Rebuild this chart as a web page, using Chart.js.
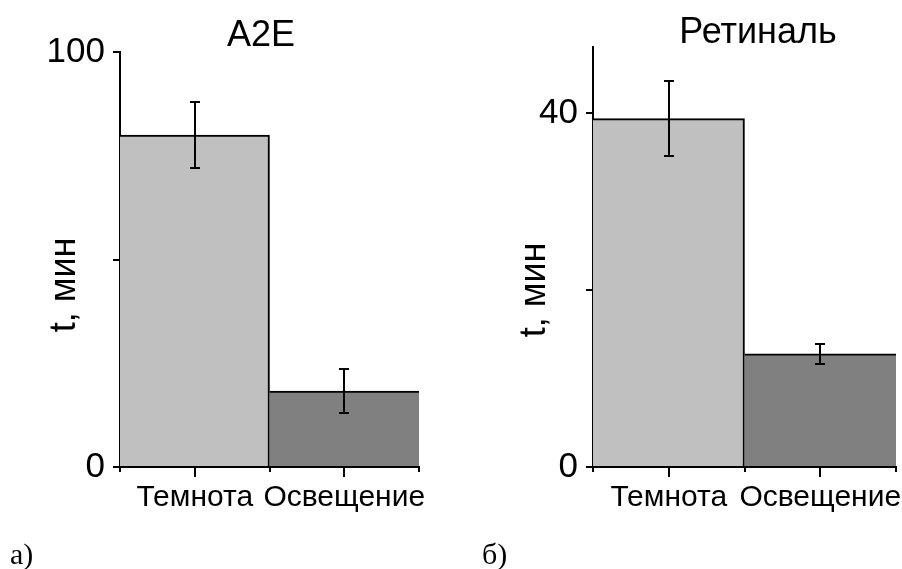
<!DOCTYPE html>
<html lang="ru">
<head>
<meta charset="utf-8">
<script src="https://cdn.jsdelivr.net/npm/chart.js@4.4.1/dist/chart.umd.min.js"></script>
<style>
  html, body { margin: 0; padding: 0; background: #fff; }
  #wrap { position: relative; width: 902px; height: 569px; overflow: hidden; background: #fff; }
  #wrap canvas { position: absolute; left: 0; top: 0; }
  .tag { position: absolute; font-family: "Liberation Serif", "Times New Roman", serif;
         font-size: 30px; line-height: 1; color: #000; white-space: nowrap; }
</style>
</head>
<body>
<div id="wrap">
  <canvas id="chartA" width="902" height="569"></canvas>
  <canvas id="chartB" width="902" height="569"></canvas>
  <div class="tag" style="left:10px; top:539px;">а)</div>
  <div class="tag" style="left:482px; top:539px;">б)</div>
</div>
<script>
// Categories and measured times (minutes) with their errors
const categories = ['Темнота', 'Освещение'];

const a2eTimes = [80, 18.3];
const a2eErrors = [8, 5.3];
const a2eMax = 100;
const a2eTicks = [0, 50, 100];
const a2eTickLabels = ['0', '', '100'];

const retinalTimes = [39.4, 12.8];
const retinalErrors = [4.2, 1.1];
const retinalMax = 47.5;
const retinalTicks = [0, 20, 40];
const retinalTickLabels = ['0', '', '40'];

const barColors = ['#c0c0c0', '#808080'];

Chart.defaults.font.family = '"Liberation Sans", Arial, sans-serif';
Chart.defaults.color = '#000';

// Error bars, centre ticks of the category axis, panel title and y-axis caption
const panelDecor = {
  id: 'panelDecor',
  afterDatasetsDraw(chart) {
    const ctx = chart.ctx;
    const y = chart.scales.y;
    ctx.save();
    ctx.strokeStyle = '#000';
    ctx.lineWidth = 2;
    chart.data.datasets.forEach((ds, di) => {
      chart.getDatasetMeta(di).data.forEach((bar, i) => {
        const v = ds.data[i], e = ds.errors[i];
        const cx = Math.round(bar.x);
        const yt = Math.round(y.getPixelForValue(v + e));
        const yb = Math.round(y.getPixelForValue(v - e));
        ctx.beginPath();
        ctx.moveTo(cx, yt); ctx.lineTo(cx, yb);
        ctx.moveTo(cx - 5, yt); ctx.lineTo(cx + 5, yt);
        ctx.moveTo(cx - 5, yb); ctx.lineTo(cx + 5, yb);
        ctx.stroke();
      });
    });
    ctx.restore();
  },
  afterDraw(chart, args, opts) {
    const ctx = chart.ctx;
    const x = chart.scales.x;
    const area = chart.chartArea;
    ctx.save();
    ctx.strokeStyle = '#000';
    ctx.lineWidth = 2;
    ctx.beginPath();
    x.ticks.forEach((t, i) => {
      const px = Math.round(x.getPixelForTick(i));
      ctx.moveTo(px, area.bottom);
      ctx.lineTo(px, area.bottom + 10);
    });
    ctx.stroke();

    ctx.fillStyle = '#000';
    ctx.font = '36px "Liberation Sans", Arial, sans-serif';
    ctx.textAlign = 'center';
    ctx.textBaseline = 'alphabetic';
    ctx.fillText(opts.title, opts.titleX, opts.titleY);

    ctx.translate(opts.captionX, opts.captionY);
    ctx.rotate(-Math.PI / 2);
    ctx.font = '36px "Liberation Sans", Arial, sans-serif';
    ctx.fillText(opts.caption, 0, 0);
    ctx.restore();
  }
};

function makePanel(canvasId, values, errors, yMax, tickValues, tickLabels, axisWidth, padding, decor) {
  return new Chart(document.getElementById(canvasId), {
    type: 'bar',
    data: {
      labels: categories,
      datasets: [{
        data: values,
        errors: errors,
        backgroundColor: barColors,
        borderColor: '#000',
        borderSkipped: false,
        borderWidth: c => c.dataIndex === 0
          ? { top: 2, right: 2, left: 0, bottom: 0 }
          : { top: 2, right: 0, left: 0, bottom: 0 },
        barPercentage: 1,
        categoryPercentage: 1
      }]
    },
    options: {
      responsive: false,
      animation: false,
      events: [],
      layout: { padding: padding },
      plugins: {
        legend: { display: false },
        tooltip: { enabled: false },
        panelDecor: decor
      },
      scales: {
        x: {
          z: 1,
          afterFit: s => { s.height = 102; s.paddingLeft = 0; s.paddingRight = 0; },
          grid: { drawOnChartArea: false, offset: true, tickLength: 5, color: '#000', lineWidth: 2 },
          border: { display: true, color: '#000', width: 2 },
          ticks: { padding: 8, color: '#000', font: { size: 30 }, maxRotation: 0, autoSkip: false }
        },
        y: {
          min: 0,
          max: yMax,
          z: 1,
          afterBuildTicks: s => { s.ticks = tickValues.map(v => ({ value: v })); },
          afterFit: s => { s.width = axisWidth; s.paddingTop = 0; s.paddingBottom = 0; },
          grid: { drawOnChartArea: false, tickLength: 7, color: '#000', lineWidth: 2 },
          border: { display: true, color: '#000', width: 2 },
          ticks: { padding: 8, color: '#000', font: { size: 35 }, callback: (v, i) => tickLabels[i] }
        }
      }
    },
    plugins: [panelDecor]
  });
}

makePanel('chartA', a2eTimes, a2eErrors, a2eMax, a2eTicks, a2eTickLabels, 120,
  { left: 0, top: 52, right: 483, bottom: 0 },
  { title: 'A2E', titleX: 261, titleY: 46, caption: 't, мин', captionX: 75, captionY: 285 });

makePanel('chartB', retinalTimes, retinalErrors, retinalMax, retinalTicks, retinalTickLabels, 133,
  { left: 460, top: 47, right: 6, bottom: 0 },
  { title: 'Ретиналь', titleX: 758, titleY: 43, caption: 't, мин', captionX: 545, captionY: 290 });
</script>
</body>
</html>
